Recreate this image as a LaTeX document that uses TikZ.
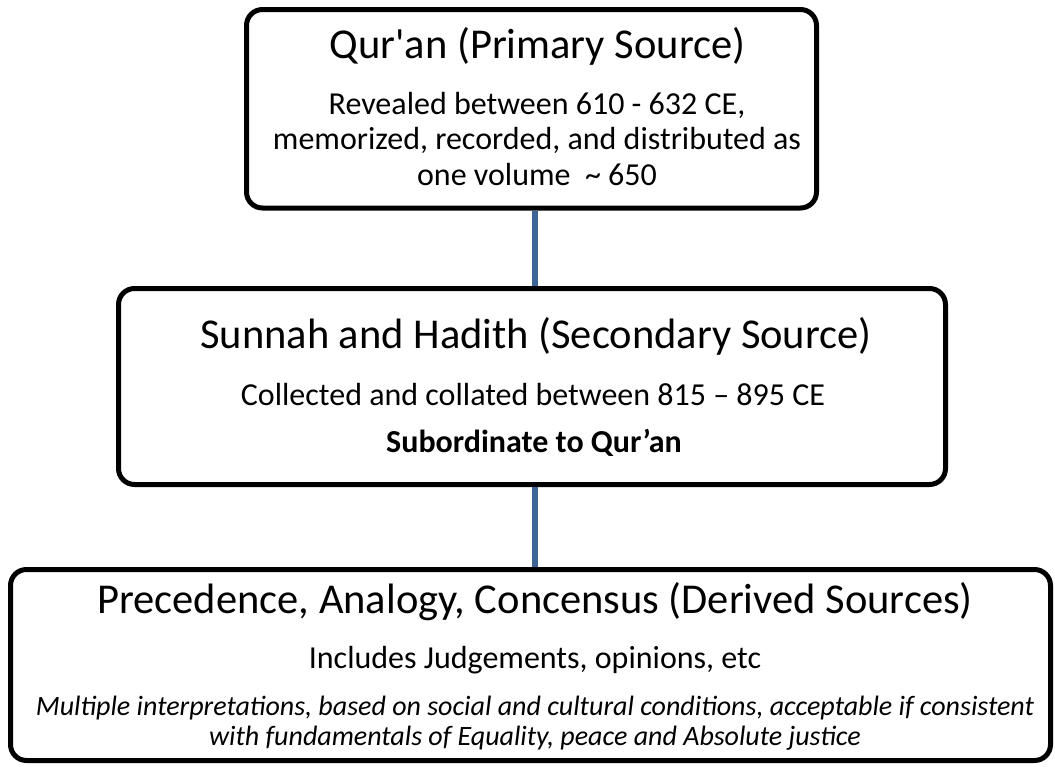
\documentclass[tikz,border=0pt]{standalone}
\usepackage{fontspec}
\setmainfont{Carlito}
\definecolor{linkblue}{RGB}{61,101,151}
\begin{document}
\begin{tikzpicture}[x=1pt,y=-1pt,
  box/.style={draw=black,line width=5pt,rounded corners=16pt,inner sep=0pt},
  link/.style={draw=linkblue,line width=6pt},
  ttl/.style={anchor=base,inner sep=0pt,font=\fontsize{42.5}{50}\selectfont},
  sub/.style={anchor=base,inner sep=0pt,font=\fontsize{32}{36}\selectfont,align=center},
  itl/.style={anchor=base,inner sep=0pt,font=\fontsize{28}{30}\selectfont\itshape,align=center}]
\useasboundingbox (0,0) rectangle (1055,766);
\node[box,minimum width=570pt,minimum height=198.5pt] (b1) at (531.5,108.75) {};
\node[box,minimum width=827pt,minimum height=196pt] (b2) at (532,386.5) {};
\node[box,minimum width=1040pt,minimum height=191pt] (b3) at (530.5,665) {};
\draw[link] ([xshift=3.5pt]b1.south) -- ([xshift=3.5pt]b1.south |- b2.north);
\draw[link] ([xshift=3pt]b2.south) -- ([xshift=3pt]b2.south |- b3.north);
\node[ttl] (t1) at (537.5,58) {Qur\textquotesingle an (Primary Source)};
\node[sub] (s1a) at (537,114) {Revealed between 610 - 632 CE,};
\node[sub] (s1b) at (537,149.5) {memorized, recorded, and distributed as};
\node[sub] (s1c) at (537,185) {one volume\ \ \textasciitilde\ 650};
\node[ttl] (t2) at (536,348) {Sunnah and Hadith (Secondary Source)};
\node[sub] (s2a) at (533,405) {Collected and collated between 815 – 895 CE};
\node[sub] (s2b) at (534,452) {\bfseries Subordinate to Qur’an};
\node[ttl] (t3) at (535,613) {Precedence, Analogy, Concensus (Derived Sources)};
\node[sub] (s3a) at (535,668) {Includes Judgements, opinions, etc};
\node[itl] (s3b) at (535,715) {Multiple interpretations, based on social and cultural conditions, acceptable if consistent};
\node[itl] (s3c) at (535,745) {with fundamentals of Equality, peace and Absolute justice};
\end{tikzpicture}
\end{document}
